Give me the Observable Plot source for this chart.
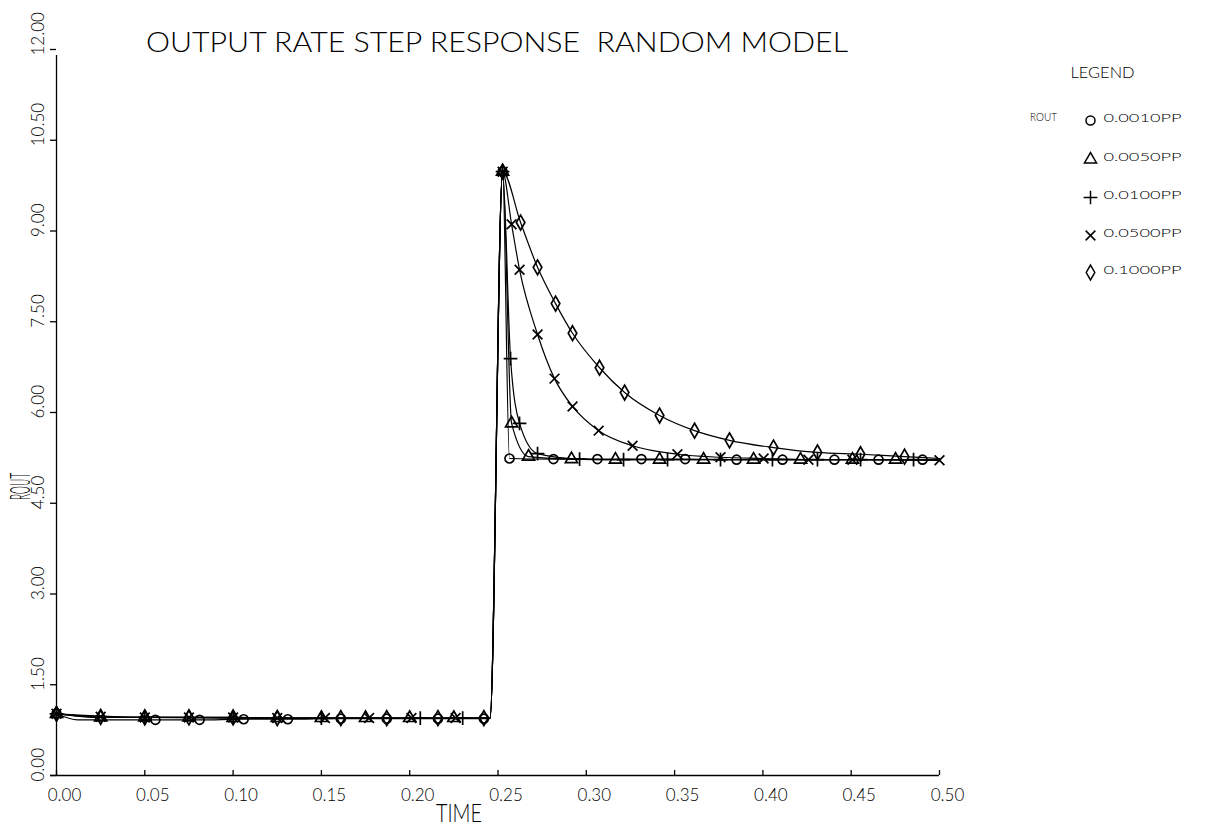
<!DOCTYPE html>
<html><head><meta charset="utf-8">
<script src="https://cdn.jsdelivr.net/npm/d3@7"></script>
<script src="https://cdn.jsdelivr.net/npm/@observablehq/plot@0.6"></script>
<style>
body{margin:0;background:#fff}
svg{-webkit-font-smoothing:antialiased;transform:translateZ(0)}
</style>
</head><body><div id="chart"></div>
<script>
// ---- data ----
const seriesNames = ["0.0010PP", "0.0050PP", "0.0100PP", "0.0500PP", "0.1000PP"];
const symbolNames = ["circle", "triangle", "plus", "times", "diamond"];

// 0.0010PP (circle)
const t001 = [0, 0.012, 0.056, 0.081, 0.106, 0.131, 0.161, 0.187, 0.216, 0.242, 0.2455, 0.2526, 0.2565, 0.2814, 0.3063, 0.3312, 0.356, 0.3851, 0.4111, 0.4405, 0.4655, 0.4904, 0.5];
const v001 = [1.02, 0.92, 0.92, 0.92, 0.93, 0.93, 0.94, 0.94, 0.94, 0.94, 0.94, 9.98, 5.24, 5.23, 5.23, 5.23, 5.23, 5.22, 5.22, 5.22, 5.22, 5.22, 5.22];
const m001 = [0, 0.056, 0.081, 0.106, 0.131, 0.161, 0.187, 0.216, 0.242, 0.2526, 0.2565, 0.2814, 0.3063, 0.3312, 0.356, 0.3851, 0.4111, 0.4405, 0.4655, 0.4904];

// 0.0050PP (triangle)
const t005 = [0, 0.025, 0.05, 0.075, 0.1, 0.125, 0.15, 0.175, 0.2, 0.225, 0.2455, 0.2526, 0.2577, 0.2673, 0.2916, 0.3165, 0.3415, 0.3664, 0.3947, 0.4213, 0.4507, 0.4751, 0.5];
const v005 = [1.02, 0.96, 0.96, 0.96, 0.95, 0.95, 0.95, 0.95, 0.95, 0.95, 0.95, 9.98, 5.82, 5.27, 5.23, 5.22, 5.22, 5.22, 5.22, 5.22, 5.22, 5.22, 5.22];
const m005 = [0, 0.025, 0.05, 0.075, 0.1, 0.125, 0.15, 0.175, 0.2, 0.225, 0.2526, 0.2577, 0.2673, 0.2916, 0.3165, 0.3415, 0.3664, 0.3947, 0.4213, 0.4507, 0.4751];

// 0.0100PP (plus)
const t010 = [0, 0.05, 0.1, 0.15, 0.206, 0.23, 0.2455, 0.2526, 0.2571, 0.2622, 0.2724, 0.2962, 0.3211, 0.346, 0.376, 0.4054, 0.4309, 0.4553, 0.4853, 0.5];
const v010 = [1.02, 0.96, 0.95, 0.95, 0.95, 0.95, 0.95, 9.98, 6.89, 5.82, 5.32, 5.23, 5.22, 5.22, 5.22, 5.22, 5.22, 5.22, 5.22, 5.22];
const m010 = [0, 0.05, 0.1, 0.15, 0.206, 0.23, 0.2526, 0.2571, 0.2622, 0.2724, 0.2962, 0.3211, 0.346, 0.376, 0.4054, 0.4309, 0.4553, 0.4853];

// 0.0500PP (times)
const t050 = [0, 0.025, 0.05, 0.075, 0.1, 0.125, 0.152, 0.177, 0.201, 0.226, 0.2455, 0.2526, 0.2577, 0.2622, 0.2724, 0.282, 0.2922, 0.307, 0.3262, 0.3516, 0.376, 0.4004, 0.4258, 0.4507, 0.5];
const v050 = [1.02, 0.97, 0.96, 0.96, 0.96, 0.95, 0.95, 0.95, 0.95, 0.95, 0.95, 9.98, 9.11, 8.36, 7.29, 6.56, 6.10, 5.70, 5.45, 5.31, 5.26, 5.24, 5.22, 5.22, 5.21];
const m050 = [0, 0.025, 0.05, 0.075, 0.1, 0.125, 0.152, 0.177, 0.201, 0.226, 0.2526, 0.2577, 0.2622, 0.2724, 0.282, 0.2922, 0.307, 0.3262, 0.3516, 0.376, 0.4004, 0.4258, 0.4507, 0.5];

// 0.1000PP (diamond)
const t100 = [0, 0.025, 0.05, 0.075, 0.1, 0.125, 0.161, 0.187, 0.216, 0.242, 0.2455, 0.2526, 0.2628, 0.2724, 0.2826, 0.2922, 0.3075, 0.3217, 0.3415, 0.3613, 0.3811, 0.406, 0.4309, 0.4553, 0.4802, 0.5];
const v100 = [1.02, 0.97, 0.96, 0.96, 0.96, 0.95, 0.95, 0.95, 0.95, 0.95, 0.95, 9.98, 9.14, 8.40, 7.80, 7.31, 6.74, 6.33, 5.95, 5.70, 5.54, 5.42, 5.34, 5.31, 5.27, 5.24];
const m100 = [0, 0.025, 0.05, 0.075, 0.1, 0.125, 0.161, 0.187, 0.216, 0.242, 0.2526, 0.2628, 0.2724, 0.2826, 0.2922, 0.3075, 0.3217, 0.3415, 0.3613, 0.3811, 0.406, 0.4309, 0.4553, 0.4802];

const xTicks = [0, 0.05, 0.1, 0.15, 0.2, 0.25, 0.3, 0.35, 0.4, 0.45, 0.5];
const xTickLabels = ["0.00", "0.05", "0.10", "0.15", "0.20", "0.25", "0.30", "0.35", "0.40", "0.45", "0.50"];
const yTicks = [0, 1.5, 3, 4.5, 6, 7.5, 9, 10.5, 12];
const yTickLabels = ["0.00", "1.50", "3.00", "4.50", "6.00", "7.50", "9.00", "10.50", "12.00"];

const titleText = "OUTPUT RATE STEP RESPONSE  RANDOM MODEL";
const xLabel = "TIME";
const yLabel = "ROUT";
const legendTitle = "LEGEND";
const legendVar = "ROUT";

// ---- build tables ----
const raw = [
  [t001, v001, m001], [t005, v005, m005], [t010, v010, m010], [t050, v050, m050], [t100, v100, m100]
];
const lineRows = [];
const markRows = [];
raw.forEach(([ts, vs, ms], i) => {
  const mset = new Set(ms);
  ts.forEach((t, j) => {
    const row = {series: seriesNames[i], t, v: vs[j]};
    lineRows.push(row);
    if (mset.has(t)) markRows.push(row);
  });
});

const FONT = "Lato, 'Liberation Sans', 'DejaVu Sans', sans-serif";
const mL = 56, mT = 49;
const legendRowsY = [120, 159, 197, 235, 272];

const legendMarks = [];
seriesNames.forEach((name, i) => {
  legendMarks.push(Plot.dot([name], {frameAnchor: "top-left", dx: 1090 - mL, dy: legendRowsY[i] - mT, symbol: d => d, r: 4.5, stroke: "black", fill: "none", strokeWidth: 1.5}));
  legendMarks.push(Plot.text([name], {frameAnchor: "top-left", dx: 1103 - mL, dy: legendRowsY[i] - mT - 2, text: d => d, textAnchor: "start", lineAnchor: "middle", fontSize: 12, fill: "black"}));
});

const chart = Plot.plot({
  width: 1226,
  height: 829,
  marginLeft: 56,
  marginRight: 287,
  marginTop: 49,
  marginBottom: 54,
  style: {fontFamily: FONT, fontWeight: 300, background: "white", color: "black"},
  x: {domain: [0, 0.5], axis: null},
  y: {domain: [0, 12], axis: null},
  symbol: {domain: seriesNames, range: symbolNames},
  marks: [
    // axis lines
    Plot.ruleX([0], {y1: 0, y2: 12, stroke: "black", strokeWidth: 1.3, insetBottom: -6}),
    Plot.ruleY([0], {x1: 0, x2: 0.5, stroke: "black", strokeWidth: 1.3, insetLeft: -6}),
    // ticks
    Plot.ruleX(xTicks, {x: d => d, y1: 0, y2: 0, insetTop: -5, stroke: "black", strokeWidth: 1.3}),
    Plot.ruleY(yTicks, {y: d => d, x1: 0, x2: 0, insetLeft: -6, stroke: "black", strokeWidth: 1.3}),
    // tick labels
    Plot.text(xTicks, {x: d => d, text: (d, i) => xTickLabels[i], frameAnchor: "bottom", lineAnchor: "middle", dy: 20, dx: 8, fontSize: 17, fill: "black"}),
    Plot.text(yTicks, {y: d => d, text: (d, i) => yTickLabels[i], frameAnchor: "left", textAnchor: "start", lineAnchor: "middle", dx: -18, dy: 6, rotate: -90, fontSize: 17, fill: "black"}),
    // axis labels and title
    Plot.text([xLabel], {frameAnchor: "bottom", textAnchor: "middle", lineAnchor: "middle", dx: -39, dy: 38, text: d => d, fontSize: 26, fill: "black"}),
    Plot.text([yLabel], {frameAnchor: "left", textAnchor: "middle", lineAnchor: "middle", dx: -35, dy: 74, rotate: -90, text: d => d, fontSize: 27, fill: "black"}),
    Plot.text([titleText], {frameAnchor: "top", textAnchor: "middle", lineAnchor: "middle", dx: -1, dy: -6, text: d => d, fontSize: 27, fill: "black"}),
    // legend
    Plot.text([legendTitle], {frameAnchor: "top-left", textAnchor: "middle", lineAnchor: "middle", dx: 1102 - mL, dy: 72 - mT, text: d => d, fontSize: 16, fill: "black"}),
    Plot.text([legendVar], {frameAnchor: "top-left", textAnchor: "middle", lineAnchor: "middle", dx: 1043 - mL, dy: 117 - mT, text: d => d, fontSize: 11, fill: "black"}),
    ...legendMarks,
    // data
    Plot.line(lineRows, {x: "t", y: "v", z: "series", curve: "monotone-x", stroke: "black", strokeWidth: 1.2}),
    Plot.dot(markRows, {x: "t", y: "v", symbol: "series", r: 4.5, stroke: "black", fill: "none", strokeWidth: 1.7})
  ]
});

// fit plotter-style lettering widths
const fit = {};
fit[titleText] = 702; fit[xLabel] = 46; fit[yLabel] = 48; fit[legendTitle] = 64; fit[legendVar] = 27;
seriesNames.forEach(n => fit[n] = 78);
d3.select(chart).selectAll("text").each(function() {
  const s = this.textContent;
  if (fit[s] !== undefined) {
    this.setAttribute("textLength", fit[s]);
    this.setAttribute("lengthAdjust", "spacingAndGlyphs");
  }
});
d3.select(chart).selectAll("text").style("white-space", "pre");
document.getElementById("chart").appendChild(chart);
</script>
</body></html>
